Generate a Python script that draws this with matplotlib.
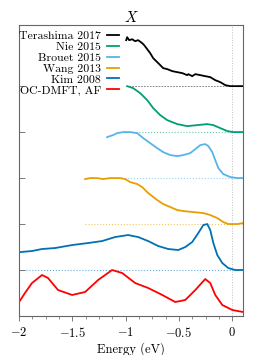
import numpy as np
import matplotlib
matplotlib.use("Agg")
import matplotlib.pyplot as plt

plt.rcParams["font.family"] = "serif"
plt.rcParams["font.serif"] = ["cmr10"]
plt.rcParams["mathtext.fontset"] = "cm"
plt.rcParams["axes.formatter.use_mathtext"] = True
plt.rcParams["font.size"] = 9

# energies (eV) and intensities relative to each curve's baseline
E_tera = [-0.995, -0.986, -0.967, -0.939, -0.911, -0.883, -0.845, -0.826, -0.798, -0.77,
          -0.742, -0.704, -0.676, -0.648, -0.61, -0.563, -0.516, -0.469, -0.423, -0.413,
          -0.376, -0.347, -0.3, -0.254, -0.207, -0.16, -0.113, -0.066, -0.019, 0.1]
I_tera = [1.0, 1.065, 1.0, 1.02, 0.978, 1.0, 0.935, 0.891, 0.804, 0.717,
          0.609, 0.522, 0.457, 0.391, 0.37, 0.326, 0.304, 0.283, 0.239, 0.261,
          0.217, 0.261, 0.239, 0.217, 0.196, 0.13, 0.087, 0.022, 0.0, 0.0]

E_nie = [-0.986, -0.93, -0.864, -0.798, -0.742, -0.676, -0.61, -0.516, -0.423, -0.329,
         -0.235, -0.178, -0.113, -0.047, 0.009, 0.1]
I_nie = [1.0, 0.957, 0.848, 0.696, 0.522, 0.37, 0.26, 0.174, 0.13, 0.152,
         0.174, 0.152, 0.087, 0.022, 0.0, 0.0]

E_brouet = [-1.174, -1.146, -1.117, -1.08, -1.023, -0.958, -0.892, -0.836, -0.77, -0.704,
            -0.648, -0.582, -0.516, -0.46, -0.394, -0.347, -0.3, -0.254, -0.225, -0.188,
            -0.16, -0.131, -0.085, -0.019, 0.047, 0.1]
I_brouet = [0.89, 0.913, 0.935, 0.978, 1.0, 1.0, 0.978, 0.87, 0.76, 0.65,
            0.565, 0.5, 0.478, 0.5, 0.543, 0.63, 0.717, 0.739, 0.696, 0.565,
            0.39, 0.217, 0.087, 0.022, 0.0, 0.0]

E_wang = [-1.38, -1.333, -1.268, -1.211, -1.146, -1.052, -1.005, -0.958, -0.892, -0.845,
          -0.789, -0.704, -0.648, -0.582, -0.516, -0.46, -0.366, -0.272, -0.207, -0.141,
          -0.085, -0.038, 0.047, 0.1]
I_wang = [0.978, 1.0, 1.0, 0.978, 1.0, 1.0, 0.978, 0.913, 0.87, 0.804,
          0.674, 0.522, 0.435, 0.37, 0.304, 0.283, 0.26, 0.239, 0.196, 0.13,
          0.043, 0.0, 0.0, 0.022]

E_kim = [-1.99, -1.878, -1.784, -1.662, -1.502, -1.352, -1.221, -1.099, -0.977, -0.883,
         -0.789, -0.695, -0.601, -0.507, -0.441, -0.376, -0.319, -0.272, -0.235, -0.207,
         -0.178, -0.141, -0.094, -0.038, 0.028, 0.1]
I_kim = [0.39, 0.413, 0.457, 0.478, 0.543, 0.587, 0.63, 0.717, 0.761, 0.717,
         0.63, 0.522, 0.457, 0.435, 0.5, 0.609, 0.804, 0.978, 1.0, 0.87,
         0.587, 0.326, 0.152, 0.043, 0.0, 0.0]

E_dmft = [-2.0, -1.944, -1.878, -1.784, -1.728, -1.634, -1.502, -1.38, -1.258, -1.127,
          -1.033, -0.911, -0.789, -0.657, -0.535, -0.441, -0.347, -0.254, -0.207, -0.16,
          -0.094, 0.0, 0.1]
I_dmft = [0.30, 0.5, 0.717, 0.891, 0.826, 0.565, 0.457, 0.522, 0.783, 1.0,
          0.935, 0.717, 0.609, 0.457, 0.304, 0.348, 0.565, 0.804, 0.717, 0.457,
          0.239, 0.13, 0.087]

labels = ["Terashima 2017", "Nie 2015", "Brouet 2015", "Wang 2013", "Kim 2008", "OC-DMFT, AF"]
colors = ["black", "#009E73", "#56B4E9", "#E69F00", "#0072B2", "red"]
offsets = [5, 4, 3, 2, 1, 0]
energies = [E_tera, E_nie, E_brouet, E_wang, E_kim, E_dmft]
spectra = [I_tera, I_nie, I_brouet, I_wang, I_kim, I_dmft]

fig = plt.figure(figsize=(2.66, 3.55), dpi=100)
ax = fig.add_axes([0.0714, 0.1099, 0.8421, 0.8197])

ax.axvline(0, color="0.75", ls=":", lw=0.7, zorder=0)

for E, I, off, c, l in zip(energies, spectra, offsets, colors, labels):
    E = np.array(E)
    I = np.array(I)
    if off > 0:
        if c == "black":
            ax.hlines(off, E.min(), 0.1, color="0.45", ls=(0, (2, 1.5)), lw=0.6, zorder=1)
        else:
            ax.hlines(off, E.min(), 0.1, color=c, ls=":", lw=0.8, alpha=0.6, zorder=1)
    ax.plot(E, I + off, color=c, lw=1.3, label=l, zorder=2)

ax.set_xlim(-2, 0.1)
ax.set_ylim(0, 6.33)
ax.set_xticks([-2, -1.5, -1, -0.5, 0])
ax.set_xticklabels([r"$-2$", r"$-1.5$", r"$-1$", r"$-0.5$", r"$0$"])
ax.set_xticks(np.arange(-2, 0.1, 0.125), minor=True)
ax.set_yticks([1, 2, 3, 4, 5])
ax.set_yticklabels([])
ax.tick_params(axis="x", which="major", direction="out", length=3.5, width=0.6, color="0.4")
ax.tick_params(axis="x", which="minor", direction="out", length=2, width=0.5, color="0.4")
ax.tick_params(axis="y", direction="in", length=4, width=0.6, color="0.4")
for s in ax.spines.values():
    s.set_color("0.4")
    s.set_linewidth(0.8)

ax.set_title(r"$X$", pad=1)
ax.set_xlabel("Energy (eV)", labelpad=2)

ax.legend(loc="upper left", bbox_to_anchor=(-0.025, 1.0), frameon=False, markerfirst=False,
          handlelength=1.0, handletextpad=0.5, labelspacing=0.05, borderaxespad=0.2,
          borderpad=0.3, fontsize=8.5)

fig.savefig("out.png", dpi=100)
